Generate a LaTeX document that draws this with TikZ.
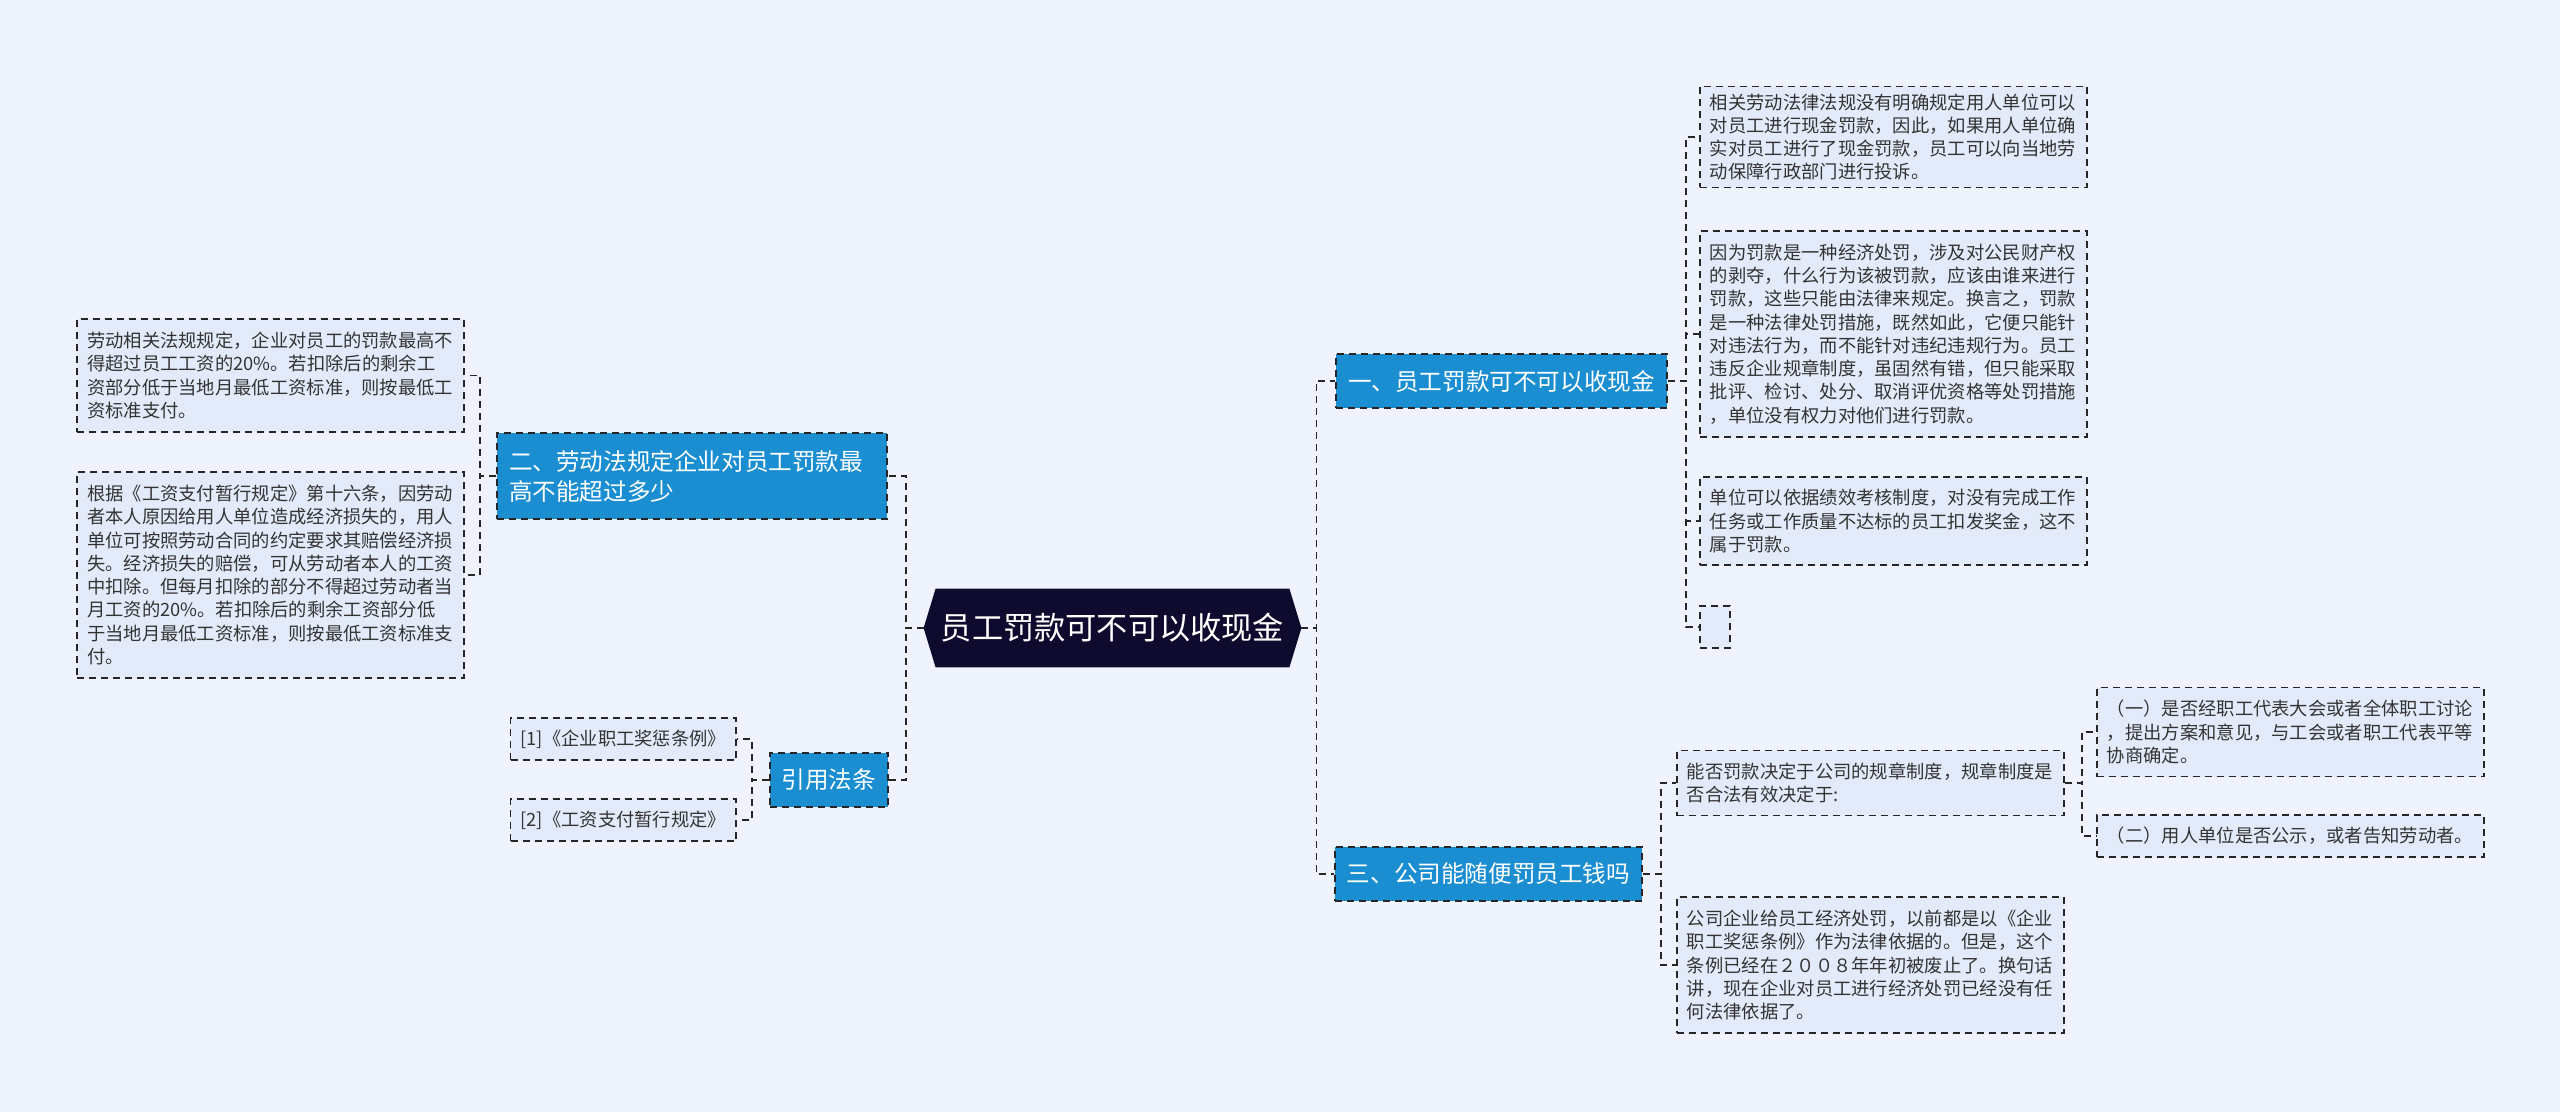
\documentclass[tikz,border=0pt]{standalone}
\usepackage{fontspec}
\setmainfont{Noto Sans CJK SC}
\usepackage{xcolor}
\usepackage{tikz}
\usetikzlibrary{positioning, backgrounds}

\definecolor{bgblue}{HTML}{EEF3FE}
\definecolor{leafblue}{HTML}{E3EBFA}
\definecolor{branchblue}{HTML}{1B8ED2}
\definecolor{rootnavy}{HTML}{0E0B2E}
\definecolor{textgray}{HTML}{333333}

\begin{document}
\begin{tikzpicture}[
  x=0.5pt, y=-0.5pt,
  dashline/.style = {dash pattern=on 3.5pt off 2.5pt, line width=0.9pt},
  leafbase/.style = {
    rectangle, draw=black!85, dashline, fill=leafblue,
    text=textgray, inner xsep=5pt, inner ysep=0pt,
    font=\fontsize{9.15}{11.65}\selectfont
  },
  leaf/.style     = {leafbase, text width=183.5pt, align=left},
  branch/.style   = {
    rectangle, draw=black!85, dashline, fill=branchblue,
    text=white, inner xsep=6pt, inner ysep=0pt, align=left,
    minimum height=27pt, font=\fontsize{11.8}{15}\selectfont
  },
  root/.style     = {
    rectangle, text=white, inner sep=0pt,
    minimum width=176.5pt, minimum height=39pt,
    font=\fontsize{15.6}{19}\selectfont
  },
  link/.style     = {dashline, draw=black!85}
]

\useasboundingbox (0,0) rectangle (2560,1112);

%% ---- root ----
\node[root] (root) at (1112.5,628) {员工罚款可不可以收现金};
\coordinate (rootL) at ([xshift=-6pt]root.west);
\coordinate (rootR) at ([xshift=6pt]root.east);

\begin{scope}[on background layer]
  \fill[bgblue] (0,0) rectangle (2560,1112);
  \fill[rootnavy] (root.north west) -- (rootL) -- (root.south west)
    -- (root.south east) -- (rootR) -- (root.north east) -- cycle;
\end{scope}

%% ---- branches ----
\node[branch, anchor=west, minimum width=165.5pt] (one) at (1335,381) {一、员工罚款可不可以收现金};
\node[branch, anchor=west, minimum width=153.5pt] (three) at (1334,874) {三、公司能随便罚员工钱吗};
\node[branch, anchor=east, text width=183pt, minimum height=43pt] (two) at (888,476)
  {二、劳动法规定企业对员工罚款最\\高不能超过多少};
\node[branch, anchor=east, minimum width=59pt] (cite) at (889,780) {引用法条};

\draw[link] (rootL) -- ++(-18,0) |- (two.east);
\draw[link] (rootL) -- ++(-18,0) |- (cite.east);
\draw[link] (rootR) -- ++(15,0) |- (one.west);
\draw[link] (rootR) -- ++(15,0) |- (three.west);

%% ---- branch two (left) ----
\node[leaf, anchor=east, minimum height=56.5pt] (la) at (465,375.5)
  {劳动相关法规规定，企业对员工的罚款最高不\\得超过员工工资的20\%。若扣除后的剩余工\\资部分低于当地月最低工资标准，则按最低工\\资标准支付。};
\node[leaf, anchor=east, minimum height=103pt] (lb) at (465,575)
  {根据《工资支付暂行规定》第十六条，因劳动\\者本人原因给用人单位造成经济损失的，用人\\单位可按照劳动合同的约定要求其赔偿经济损\\失。经济损失的赔偿，可从劳动者本人的工资\\中扣除。但每月扣除的部分不得超过劳动者当\\月工资的20\%。若扣除后的剩余工资部分低\\于当地月最低工资标准，则按最低工资标准支\\付。};

\draw[link] (two.west) -- ++(-16,0) |- (la.east);
\draw[link] (two.west) -- ++(-16,0) |- (lb.east);

%% ---- cited laws ----
\node[leafbase, anchor=east, minimum width=112.5pt, minimum height=21pt] (c1) at (737,739) {[1]《企业职工奖惩条例》};
\node[leafbase, anchor=east, minimum width=112.5pt, minimum height=21pt] (c2) at (737,820) {[2]《工资支付暂行规定》};

\draw[link] (cite.west) -- ++(-17,0) |- (c1.east);
\draw[link] (cite.west) -- ++(-17,0) |- (c2.east);

%% ---- branch one (right) ----
\node[leaf, anchor=west, minimum height=50.5pt] (r1) at (1699,137)
  {相关劳动法律法规没有明确规定用人单位可以\\对员工进行现金罚款，因此，如果用人单位确\\实对员工进行了现金罚款，员工可以向当地劳\\动保障行政部门进行投诉。};
\node[leaf, anchor=west, minimum height=103pt] (r2) at (1699,334)
  {因为罚款是一种经济处罚，涉及对公民财产权\\的剥夺，什么行为该被罚款，应该由谁来进行\\罚款，这些只能由法律来规定。换言之，罚款\\是一种法律处罚措施，既然如此，它便只能针\\对违法行为，而不能针对违纪违规行为。员工\\违反企业规章制度，虽固然有错，但只能采取\\批评、检讨、处分、取消评优资格等处罚措施\\，单位没有权力对他们进行罚款。};
\node[leaf, anchor=west, minimum height=44pt] (r3) at (1699,521)
  {单位可以依据绩效考核制度，对没有完成工作\\任务或工作质量不达标的员工扣发奖金，这不\\属于罚款。};
\node[leafbase, anchor=west, minimum width=15pt, minimum height=21pt] (r4) at (1699,627) {};

\foreach \leafname in {r1,r2,r3,r4}
  \draw[link] (one.east) -- ++(18,0) |- (\leafname.west);

%% ---- branch three (right) ----
\node[leaf, anchor=west, minimum height=32.5pt] (s1) at (1676,783)
  {能否罚款决定于公司的规章制度，规章制度是\\否合法有效决定于:};
\node[leaf, anchor=west, minimum height=68pt] (s2) at (1676,965)
  {公司企业给员工经济处罚，以前都是以《企业\\职工奖惩条例》作为法律依据的。但是，这个\\条例已经在２００８年年初被废止了。换句话\\讲，现在企业对员工进行经济处罚已经没有任\\何法律依据了。};

\draw[link] (three.east) -- ++(18,0) |- (s1.west);
\draw[link] (three.east) -- ++(18,0) |- (s2.west);

\node[leaf, anchor=west, minimum height=44.5pt] (t1) at (2096,732)
  {（一）是否经职工代表大会或者全体职工讨论\\，提出方案和意见，与工会或者职工代表平等\\协商确定。};
\node[leaf, anchor=west, minimum height=21pt] (t2) at (2096,836)
  {（二）用人单位是否公示，或者告知劳动者。};

\draw[link] (s1.east) -- ++(17,0) |- (t1.west);
\draw[link] (s1.east) -- ++(17,0) |- (t2.west);

\end{tikzpicture}
\end{document}
